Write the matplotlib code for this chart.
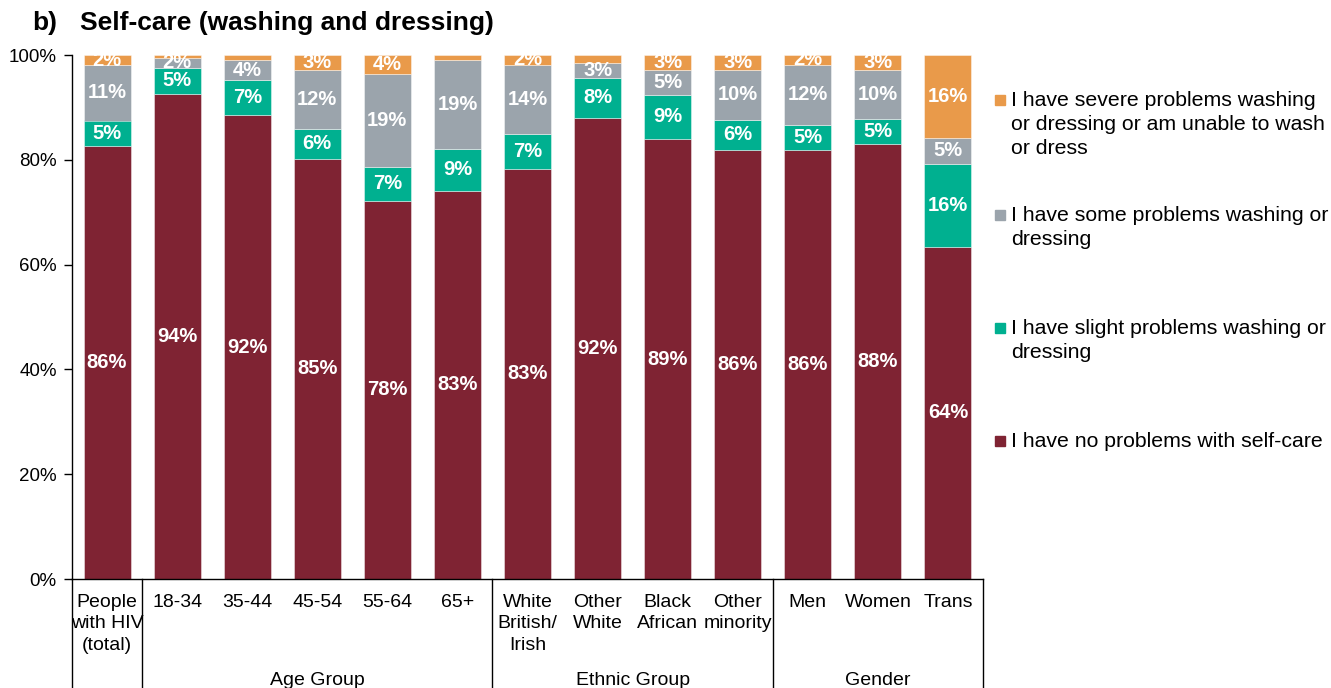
import matplotlib.pyplot as plt
import matplotlib.transforms as mtransforms
from matplotlib.patches import Rectangle
import numpy as np

plt.rcParams['font.family'] = ['Liberation Sans', 'DejaVu Sans']

categories = ["People\nwith HIV\n(total)", "18-34", "35-44", "45-54", "55-64", "65+",
              "White\nBritish/\nIrish", "Other\nWhite", "Black\nAfrican", "Other\nminority",
              "Men", "Women", "Trans"]
groups = [("Age Group", 1, 5), ("Ethnic Group", 6, 9), ("Gender", 10, 12)]
group_edges = [-0.5, 0.5, 5.5, 9.5, 12.5]

no_problems = [86, 94, 92, 85, 78, 83, 83, 92, 89, 86, 86, 88, 64]
slight = [5, 5, 7, 6, 7, 9, 7, 8, 9, 6, 5, 5, 16]
some = [11, 2, 4, 12, 19, 19, 14, 3, 5, 10, 12, 10, 5]
severe = [2, 0.5, 1, 3, 4, 1, 2, 1.5, 3, 3, 2, 3, 16]

series_names = ["I have no problems with self-care",
                "I have slight problems washing or\ndressing",
                "I have some problems washing or\ndressing",
                "I have severe problems washing\nor dressing or am unable to wash\nor dress"]
colors = ["#7F2333", "#00B090", "#9BA4AC", "#E99A4A"]

data = np.array([no_problems, slight, some, severe], dtype=float)
# 100% stacked: each column scaled to its own total
shares = data / data.sum(axis=0) * 100

fig = plt.figure(figsize=(13.31, 6.88), dpi=100)
ax = fig.add_axes([72 / 1331, 109 / 688, 911 / 1331, 524 / 688])

x = np.arange(len(categories))
bottom = np.zeros(len(categories))
for vals, sh, col in zip(data, shares, colors):
    ax.bar(x, sh, bottom=bottom, width=0.67, color=col, edgecolor=(1, 1, 1, 0.5), linewidth=0.6)
    for xi, v, s, b in zip(x, vals, sh, bottom):
        if v >= 2:
            ax.text(xi, b + s / 2, f"{v:.0f}%", ha='center', va='center', color='white',
                    fontsize=14.5, fontweight='bold')
    bottom += sh

ax.set_xlim(-0.5, 12.5)
ax.set_ylim(0, 100)
ax.set_yticks(range(0, 101, 20))
ax.set_yticklabels([f"{t}%" for t in range(0, 101, 20)], fontsize=13.5)
ax.tick_params(axis='y', direction='out', length=6, width=1, pad=5)
ax.set_xticks([])
for s in ['top', 'right']:
    ax.spines[s].set_visible(False)
ax.spines['left'].set_linewidth(1)
ax.spines['bottom'].set_linewidth(1)

# category names and group names under the axis (offsets in points, 1 px = 0.72 pt)
trans = mtransforms.blended_transform_factory(ax.transData, ax.transAxes)
for xi, lab in zip(x, categories):
    ax.annotate(lab, (xi, 0), xycoords=trans, xytext=(0, -11), textcoords='offset points',
                ha='center', va='top', fontsize=14, linespacing=1.32)
for name, a, b in groups:
    ax.annotate(name, ((a + b) / 2, 0), xycoords=trans, xytext=(0, -76), textcoords='offset points',
                ha='center', va='baseline', fontsize=14)
for e in group_edges:
    ax.plot([e, e], [0, -0.21], transform=trans, color='black', lw=1, clip_on=False)

fig.text(32 / 1331, 1 - 23 / 688, "b)", fontsize=19, fontweight='bold', va='center')
fig.text(80 / 1331, 1 - 23 / 688, "Self-care (washing and dressing)", fontsize=19,
         fontweight='bold', va='center')

legend_y = [441, 328, 215, 100]
for name, col, ly in zip(series_names, colors, legend_y):
    fig.patches.append(Rectangle((995 / 1331, 1 - (ly + 5) / 688), 10 / 1331, 10 / 688,
                                 transform=fig.transFigure, color=col))
    fig.text(1011 / 1331, 1 - (ly - 9) / 688, name, fontsize=15.3, va='top', linespacing=1.32)

fig.savefig("out.png", dpi=100)
